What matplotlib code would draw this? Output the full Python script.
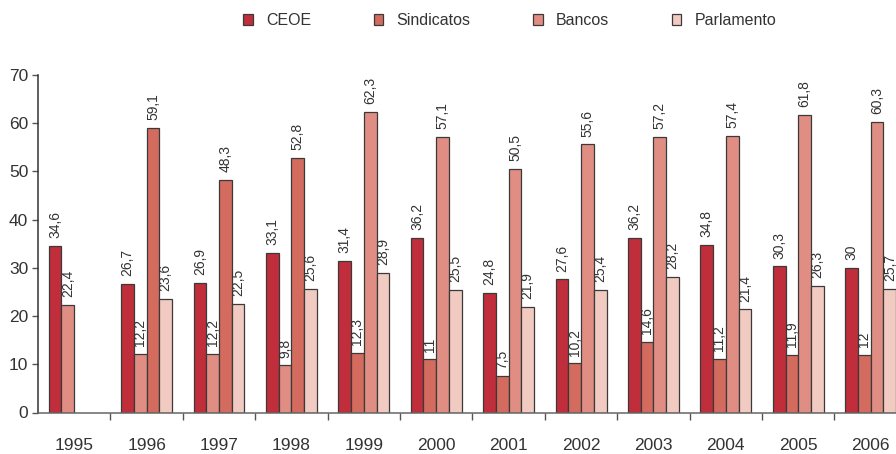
import numpy as np
import matplotlib
matplotlib.use('Agg')
import matplotlib.pyplot as plt
from matplotlib.patches import Patch

# Datos
years = ['1995', '1996', '1997', '1998', '1999', '2000',
         '2001', '2002', '2003', '2004', '2005', '2006']
series = ['CEOE', 'Sindicatos', 'Bancos', 'Parlamento']
ceoe = [34.6, 26.7, 26.9, 33.1, 31.4, 36.2, 24.8, 27.6, 36.2, 34.8, 30.3, 30]
sindicatos = [22.4, 12.2, 12.2, 9.8, 12.3, 11, 7.5, 10.2, 14.6, 11.2, 11.9, 12]
bancos = [None, 59.1, 48.3, 52.8, 62.3, 57.1, 50.5, 55.6, 57.2, 57.4, 61.8, 60.3]
parlamento = [None, 23.6, 22.5, 25.6, 28.9, 25.5, 21.9, 25.4, 28.2, 21.4, 26.3, 25.7]
# en el original los colores de Sindicatos y Bancos van cambiados en estos años
swapped_years = ['1995', '1996', '1997', '1998']

colors = ['#c02d3b', '#d46b5f', '#e08e83', '#f1cbc2']
edge = '#3a3a3a'

plt.rcParams['font.family'] = ['Liberation Sans', 'DejaVu Sans']

fig = plt.figure(figsize=(8.96, 4.54), dpi=100)
ax = fig.add_axes([38 / 896, 1 - 412.5 / 454, 1 - 38 / 896, (412.5 - 75) / 454])

x = np.arange(len(years))
w = 0.176
data = [ceoe, sindicatos, bancos, parlamento]
for k, vals in enumerate(data):
    for i, v in enumerate(vals):
        if v is None:
            continue
        c = colors[k]
        if years[i] in swapped_years and k in (1, 2):
            c = colors[3 - k]
        xi = x[i] + (k - 1.5) * w
        ax.bar(xi, v, width=w, color=c, edgecolor=edge, linewidth=0.9)
        lbl = f'{v:g}'.replace('.', ',')
        ax.text(xi, v + 1.6, lbl, rotation=90, ha='center', va='bottom',
                fontsize=10, color='#333333', clip_on=False)

ax.set_xlim(-0.5, 11.35)
ax.set_ylim(0, 70)
ax.set_yticks(range(0, 71, 10))
ax.set_xticks(x)
ax.set_xticklabels(years)
ax.set_xticks(np.arange(0.5, 11, 1), minor=True)
ax.tick_params(axis='x', which='major', length=0, pad=18, labelsize=12.5, colors='#333333')
ax.tick_params(axis='x', which='minor', length=5, width=1, direction='out', color='#555555')
ax.tick_params(axis='y', length=4, width=1, pad=3, labelsize=12.5,
               colors='#555555', labelcolor='#333333')

for s in ['top', 'right']:
    ax.spines[s].set_visible(False)
ax.spines['left'].set_color('#333333')
ax.spines['bottom'].set_color('#666666')
ax.spines['left'].set_linewidth(1.1)
ax.spines['bottom'].set_linewidth(1.1)

handles = [Patch(facecolor=c, edgecolor=edge, linewidth=0.9) for c in colors]
fig.legend(handles, series, loc='center', bbox_to_anchor=(0.569, 0.955), ncol=4,
           frameon=False, fontsize=11.5, handlelength=0.6, handleheight=0.7,
           handletextpad=0.85, columnspacing=3.9, labelcolor='#333333')

plt.savefig('out.png', dpi=100)
plt.close()
